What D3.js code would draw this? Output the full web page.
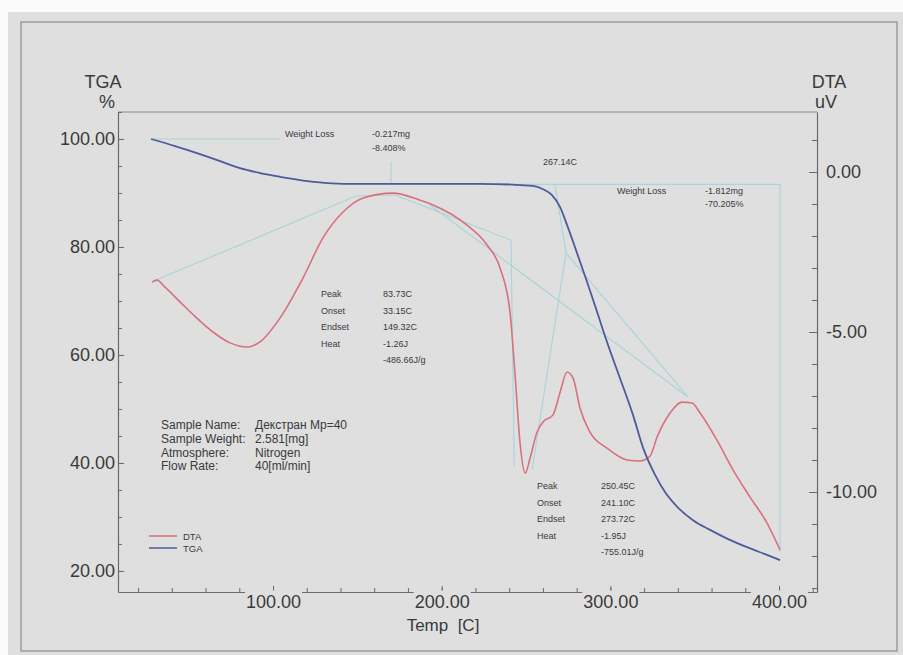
<!DOCTYPE html>
<html>
<head>
<meta charset="utf-8">
<script src="https://cdn.jsdelivr.net/npm/d3@7"></script>
<style>
  html, body { margin: 0; padding: 0; background: #fbfbfb; }
  svg { display: block; font-family: "Liberation Sans", Arial, sans-serif; }
</style>
</head>
<body>
<svg id="chart" width="903" height="655"></svg>
<script>
// TGA curve (Temp C, weight %)
const tgaTemp = [27.7, 41.9, 54.9, 68.6, 80.4, 92.3, 104.2, 116.0, 126.1, 141.5, 187.2, 222.7, 254.1, 260.1, 265.4, 270.2, 274.3, 280.2, 286.2, 292.1, 298.0, 305.7, 313.4, 319.4, 326.5, 332.4, 339.5, 349.0, 359.1, 369.8, 381.0, 391.7, 400.6];
const tgaVal  = [100.0, 98.7, 97.4, 95.9, 94.6, 93.7, 93.0, 92.4, 92.0, 91.7, 91.7, 91.7, 91.3, 90.7, 89.6, 87.4, 84.1, 78.9, 73.5, 68.0, 62.4, 55.7, 48.9, 42.8, 37.8, 34.6, 31.9, 29.4, 27.6, 25.9, 24.4, 23.1, 22.0];

// DTA curve (Temp C, uV)
const dtaTemp = [28.3, 31.2, 36.0, 44.9, 54.5, 64.4, 74.5, 84.6, 92.3, 104.2, 117.8, 129.6, 141.5, 153.4, 171.1, 187.2, 194.9, 215.0, 226.9, 234.6, 240.5, 243.5, 246.4, 249.6, 252.4, 256.5, 260.1, 266.0, 270.2, 274.3, 277.9, 282.0, 287.9, 298.0, 309.9, 317.6, 323.5, 327.7, 335.4, 342.5, 348.4, 353.2, 363.2, 372.7, 382.8, 392.9, 400.6];
const dtaVal  = [-3.44, -3.38, -3.6, -4.06, -4.55, -5.0, -5.34, -5.47, -5.31, -4.56, -3.31, -2.06, -1.25, -0.81, -0.66, -0.88, -1.03, -1.66, -2.28, -3.0, -4.38, -6.34, -8.44, -9.41, -8.94, -8.13, -7.81, -7.59, -6.88, -6.25, -6.44, -7.38, -8.13, -8.63, -9.0, -9.03, -8.88, -8.28, -7.53, -7.19, -7.22, -7.53, -8.38, -9.31, -10.16, -10.97, -11.81];

// analysis construction lines: [t1, v1, t2, v2]
const tgaMarks = [
  [28.3, 100, 104.2, 100],
  [170.0, 95.7, 170.0, 91.6],
  [170.0, 91.6, 400.6, 91.6],
  [400.6, 91.6, 400.6, 23.5]
];
const dtaMarks = [
  [29.5, -3.4, 149.3, -0.75],
  [149.3, -0.75, 172.3, -0.72],
  [172.3, -0.72, 241.1, -2.13],
  [241.1, -2.13, 243.0, -9.2],
  [193.1, -1.03, 346.0, -7.03],
  [253.6, -9.31, 273.7, -2.53],
  [273.7, -2.53, 346.0, -7.03],
  [267.1, -0.38, 273.7, -2.53]
];

const xTicks = [100, 200, 300, 400];
const yLTicks = [20, 40, 60, 80, 100];
const yRTicks = [-10, -5, 0];

const sampleKeys = ['Sample Name:', 'Sample Weight:', 'Atmosphere:', 'Flow Rate:'];
const sampleVals = ['Декстран Mp=40', '2.581[mg]', 'Nitrogen', '40[ml/min]'];
const peak1Keys = ['Peak', 'Onset', 'Endset', 'Heat', ''];
const peak1Vals = ['83.73C', '33.15C', '149.32C', '-1.26J', '-486.66J/g'];
const peak2Keys = ['Peak', 'Onset', 'Endset', 'Heat', ''];
const peak2Vals = ['250.45C', '241.10C', '273.72C', '-1.95J', '-755.01J/g'];

const bg = '#dfdfdf', axisCol = '#6a6a6a', textCol = '#3a3a3a';
const redCol = '#d9707e', blueCol = '#4e5a9a', markCol = '#a8d4da';

const svg = d3.select('#chart');

// page background and frame
svg.append('rect').attr('x', 8).attr('y', 12).attr('width', 895).attr('height', 643).attr('fill', bg);
svg.append('rect').attr('x', 21).attr('y', 22).attr('width', 876).attr('height', 629)
  .attr('fill', 'none').attr('stroke', '#8c8c8c').attr('stroke-width', 1.2);

const x = d3.scaleLinear().domain([8.1, 422.5]).range([118, 817]);
const yL = d3.scaleLinear().domain([16.1, 105]).range([592, 112]);
const yR = d3.scaleLinear().domain([-13.125, 1.875]).range([592, 112]);

// plot box top line
svg.append('line').attr('x1', 118).attr('x2', 817).attr('y1', 112).attr('y2', 112)
  .attr('stroke', '#8a8a8a').attr('stroke-width', 1);

// minor ticks
const minorStyle = g => g.call(s => s.select('.domain').remove())
  .call(s => s.selectAll('line').attr('stroke', axisCol));
svg.append('g').attr('transform', 'translate(0,592)')
  .call(d3.axisBottom(x).tickValues(d3.range(20, 421, 20)).tickSize(-4).tickFormat(''))
  .call(minorStyle);
svg.append('g').attr('transform', 'translate(118,0)')
  .call(d3.axisLeft(yL).tickValues(d3.range(20, 106, 5)).tickSize(-4).tickFormat(''))
  .call(minorStyle);
svg.append('g').attr('transform', 'translate(817,0)')
  .call(d3.axisRight(yR).tickValues(d3.range(-13, 2, 1)).tickSize(-5).tickFormat(''))
  .call(minorStyle);

// major axes (plain hyphen for the minus, as printed)
const fmt = d => d.toFixed(2);
const styleAxis = (g, size) => {
  g.select('.domain').attr('stroke', axisCol).attr('stroke-width', 1.2);
  g.selectAll('line').attr('stroke', axisCol);
  g.selectAll('text').attr('fill', textCol).style('font-size', size + 'px');
};
const gx = svg.append('g').attr('transform', 'translate(0,592)')
  .call(d3.axisBottom(x).tickValues(xTicks).tickSize(-6).tickPadding(3).tickFormat(fmt).tickSizeOuter(0));
styleAxis(gx, 18);
// label boxes break the axis line as in the original print
gx.selectAll('.tick').each(function() {
  const t = d3.select(this).select('text');
  const b = t.node().getBBox();
  d3.select(this).insert('rect', 'text').attr('x', b.x - 1).attr('y', -1.5)
    .attr('width', b.width + 2).attr('height', b.height + 6).attr('fill', bg);
});
const gl = svg.append('g').attr('transform', 'translate(118,0)')
  .call(d3.axisLeft(yL).tickValues(yLTicks).tickSize(-6).tickPadding(3).tickFormat(fmt).tickSizeOuter(0));
styleAxis(gl, 18);
const gr = svg.append('g').attr('transform', 'translate(817,0)')
  .call(d3.axisRight(yR).tickValues(yRTicks).tickSize(-8).tickPadding(9).tickFormat(fmt).tickSizeOuter(0));
styleAxis(gr, 18);

// axis titles
const title = (tx, ty, s, size) => svg.append('text').attr('x', tx).attr('y', ty)
  .attr('text-anchor', 'middle').attr('fill', textCol).style('font-size', size + 'px').text(s);
title(103, 88, 'TGA', 18);
title(107, 108, '%', 18);
title(829, 88, 'DTA', 18);
title(826, 108, 'uV', 18);
title(443, 631, 'Temp\u00a0 [C]', 17);

// construction lines
const marks = svg.append('g').attr('stroke', markCol).attr('stroke-width', 1.1).attr('fill', 'none');
tgaMarks.forEach(m => marks.append('line')
  .attr('x1', x(m[0])).attr('y1', yL(m[1])).attr('x2', x(m[2])).attr('y2', yL(m[3])));
dtaMarks.forEach(m => marks.append('line')
  .attr('x1', x(m[0])).attr('y1', yR(m[1])).attr('x2', x(m[2])).attr('y2', yR(m[3])));

// curves
const dtaLine = d3.line().x((d, i) => x(dtaTemp[i])).y(d => yR(d)).curve(d3.curveMonotoneX);
const tgaLine = d3.line().x((d, i) => x(tgaTemp[i])).y(d => yL(d)).curve(d3.curveMonotoneX);
svg.append('path').datum(dtaVal).attr('d', dtaLine)
  .attr('fill', 'none').attr('stroke', redCol).attr('stroke-width', 1.6);
svg.append('path').datum(tgaVal).attr('d', tgaLine)
  .attr('fill', 'none').attr('stroke', blueCol).attr('stroke-width', 1.8);

// small annotation text
const small = (tx, ty, s, size) => svg.append('text').attr('x', tx).attr('y', ty)
  .attr('fill', textCol).style('font-size', (size || 9) + 'px').text(s);
small(285, 137, 'Weight Loss');
small(372, 137, '-0.217mg');
small(372, 151, '-8.408%');
small(543, 165, '267.14C');
small(617, 194, 'Weight Loss');
small(705, 194, '-1.812mg');
small(705, 207, '-70.205%');

peak1Keys.forEach((k, i) => { small(321, 297 + i * 16.5, k); small(383, 297 + i * 16.5, peak1Vals[i]); });
peak2Keys.forEach((k, i) => { small(537, 489 + i * 16.5, k); small(601, 489 + i * 16.5, peak2Vals[i]); });

sampleKeys.forEach((k, i) => {
  small(161, 429 + i * 13.8, k, 12);
  small(255, 429 + i * 13.8, sampleVals[i], 12);
});

// legend
const legend = [['DTA', redCol], ['TGA', blueCol]];
legend.forEach((l, i) => {
  svg.append('line').attr('x1', 149).attr('x2', 177).attr('y1', 536 + i * 12).attr('y2', 536 + i * 12)
    .attr('stroke', l[1]).attr('stroke-width', 1.5);
  small(183, 539.5 + i * 12, l[0], 9.5);
});
</script>
</body>
</html>
